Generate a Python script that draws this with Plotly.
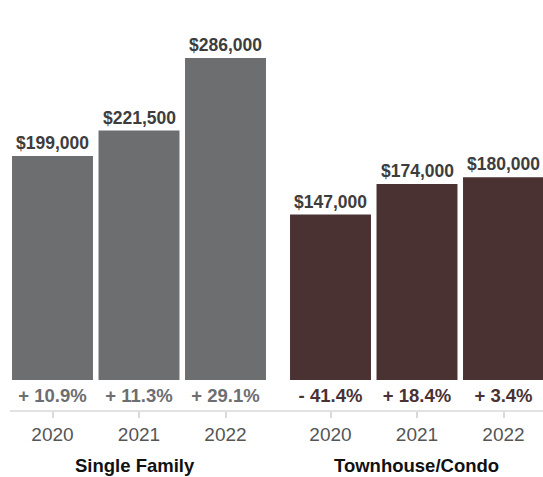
import plotly.graph_objects as go

years = ["2020", "2021", "2022"]
sf_values = [199000, 221500, 286000]
tc_values = [147000, 174000, 180000]
sf_change = ["+ 10.9%", "+ 11.3%", "+ 29.1%"]
tc_change = ["- 41.4%", "+ 18.4%", "+ 3.4%"]
groups = ["Single Family", "Townhouse/Condo"]

W, H = 543, 477
SF_COLOR = "#6d6e70"
TC_COLOR = "#4a3233"
FONT = "Liberation Sans, Arial, Helvetica, sans-serif"

PLOT_BOTTOM = 411          # pixel row of the baseline rule
ZERO_PX = 380              # pixel row of the bars' base
PX_PER_UNIT = 322 / 286000
YMAX = ZERO_PX / PX_PER_UNIT
YMIN = -(PLOT_BOTTOM - ZERO_PX) / PX_PER_UNIT
PCT_Y = -(397.5 - ZERO_PX) / PX_PER_UNIT


def money(v):
    return "${:,.0f}".format(v)


fig = go.Figure()
annotations = []

for xa, ya, vals, chg, col in [("x", "y", sf_values, sf_change, SF_COLOR),
                               ("x2", "y2", tc_values, tc_change, TC_COLOR)]:
    fig.add_trace(go.Bar(x=years, y=vals, xaxis=xa, yaxis=ya,
                         marker=dict(color=col, line=dict(width=0)),
                         hoverinfo="skip"))
    fig.add_trace(go.Scatter(x=years, y=[PCT_Y] * len(years), xaxis=xa, yaxis=ya,
                             mode="text", text=chg, textposition="middle center",
                             textfont=dict(family=FONT, size=18.5, color=col, weight="bold"),
                             cliponaxis=False, hoverinfo="skip"))
    for i, v in enumerate(vals):
        annotations.append(dict(x=i, y=v, xref=xa, yref=ya, text=money(v), showarrow=False,
                                xanchor="center", yanchor="bottom", yshift=1,
                                font=dict(family=FONT, size=17.5, color="#3d3d3d", weight="bold")))

for gx, g in zip([135 / W, 416 / W], groups):
    annotations.append(dict(x=gx, y=(PLOT_BOTTOM - 465) / PLOT_BOTTOM, xref="paper", yref="paper",
                            text=g, showarrow=False, xanchor="center", yanchor="middle",
                            font=dict(family=FONT, size=18.5, color="#111111", weight="bold")))

axis_common = dict(type="category", showgrid=False, zeroline=False, showline=False,
                   ticks="outside", ticklen=6, tickcolor="#d9d9d9", tickwidth=1.5,
                   tickfont=dict(family=FONT, size=19, color="#555555"), fixedrange=True)

fig.update_layout(
    width=W, height=H,
    margin=dict(l=0, r=0, t=0, b=H - PLOT_BOTTOM, pad=0),
    paper_bgcolor="white", plot_bgcolor="white",
    showlegend=False, bargap=0.064,
    xaxis=dict(domain=[9.25 / W, 268.75 / W], range=[-0.5, 2.5], anchor="y", **axis_common),
    xaxis2=dict(domain=[287.25 / W, 1.0], range=[-0.5, 2.4566], anchor="y2", **axis_common),
    yaxis=dict(range=[YMIN, YMAX], visible=False, fixedrange=True),
    yaxis2=dict(range=[YMIN, YMAX], visible=False, anchor="x2", fixedrange=True),
    annotations=annotations,
    shapes=[dict(type="line", xref="paper", yref="paper", x0=10 / W, x1=1, y0=0, y1=0,
                 line=dict(color="#d9d9d9", width=1.5), layer="below")],
)

fig.write_html("out.html", config={"displayModeBar": False},
               post_script="document.body.style.margin='0';document.body.style.overflow='hidden';")
